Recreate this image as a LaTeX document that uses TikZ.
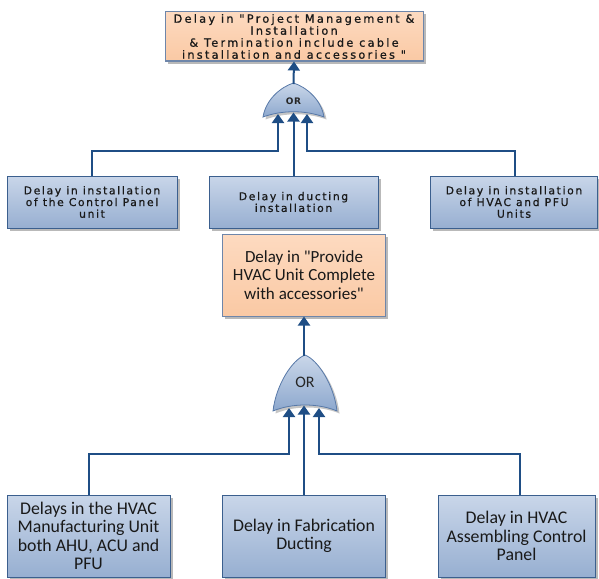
\documentclass[tikz,border=0pt]{standalone}
\usepackage{fontspec}
\setmainfont{Carlito}[Ligatures=TeXOff]
\newfontfamily\dvtop{DejaVu Sans}[LetterSpace=20,Ligatures=TeXOff,FakeBold=0.8]
\newfontfamily\dv{DejaVu Sans}[LetterSpace=15,Ligatures=TeXOff,FakeBold=0.8]
\newfontfamily\dvb{DejaVu Sans Bold}[LetterSpace=8]
\usetikzlibrary{shadows,arrows.meta,calc}
\definecolor{lineblue}{HTML}{1F4E85}
\definecolor{boxedge}{HTML}{3B5F8E}
\definecolor{btop}{HTML}{C9D6E9}
\definecolor{bbot}{HTML}{97AFD1}
\definecolor{otop}{HTML}{FDDAC0}
\definecolor{obot}{HTML}{FAC9A4}
\definecolor{oedge}{HTML}{6E86AA}
\definecolor{gtop}{HTML}{CAD7E9}
\definecolor{gbot}{HTML}{8DA8CE}
\definecolor{gedge}{HTML}{5879A8}
\tikzset{
  shad/.style={drop shadow={shadow xshift=2.5pt,shadow yshift=-2.5pt,fill=black!50,opacity=.55}},
  bluebox/.style={draw=boxedge,line width=1pt,top color=btop,bottom color=bbot,shad,
    align=center,inner sep=0pt,text=black!90},
  orbox/.style={draw=oedge,line width=1pt,top color=otop,bottom color=obot,shad,
    align=center,inner sep=0pt,text=black!90},
  toptxt/.style={font=\dvtop\fontsize{11.3}{12}\selectfont},
  smalltxt/.style={font=\dv\fontsize{10.8}{11.7}\selectfont},
  bigtxt/.style={font=\fontsize{17}{18.3}\selectfont},
  bottxt/.style={font=\fontsize{17.8}{18.3}\selectfont},
  conn/.style={draw=lineblue,line width=2pt},
  arr/.style={conn,-{Triangle[width=12pt,length=9pt]}},
  gate/.style={draw=gedge,line width=.8pt,top color=gtop,bottom color=gbot},
  gateshadow/.style={fill=black!45,opacity=.5}
}
\begin{document}
\begin{tikzpicture}[x=1pt,y=-1pt]
\useasboundingbox (0,0) rectangle (599,578);
% top box
\node[orbox,toptxt,minimum width=258pt,minimum height=49pt] (top) at (294,36.5)
  {Delay in "Project Management \&\\Installation\\\& Termination include cable\\installation and accessories "};
% middle row
\node[bluebox,smalltxt,minimum width=170pt,minimum height=52pt] (m1) at (92,202)
  {Delay in installation\\of the Control Panel\\unit};
\node[bluebox,smalltxt,minimum width=169pt,minimum height=52pt] (m2) at (293.5,202)
  {Delay in ducting\\installation};
\node[bluebox,smalltxt,minimum width=167pt,minimum height=52pt] (m3) at (514,202)
  {Delay in installation\\of HVAC and PFU\\Units};
% middle orange
\node[orbox,bigtxt,minimum width=163pt,minimum height=82pt] (mid) at (304,275)
  {Delay in "Provide\\HVAC Unit Complete\\with accessories"};
% bottom row
\node[bluebox,bottxt,minimum width=163pt,minimum height=82pt] (b1) at (88.5,536)
  {Delays in the HVAC\\Manufacturing Unit\\both AHU, ACU and\\PFU};
\node[bluebox,bottxt,minimum width=163pt,minimum height=82pt] (b2) at (304,536)
  {Delay in Fabrication\\Ducting};
\node[bluebox,bottxt,minimum width=157pt,minimum height=82pt] (b3) at (516.5,536)
  {Delay in HVAC\\Assembling Control\\Panel};
% top gate
\fill[gateshadow] (265.5,119.5) .. controls (268.5,101.5) and (283.5,89.5) .. (296,85.5)
  .. controls (308.5,89.5) and (323.5,101.5) .. (326.5,119.5)
  .. controls (307.5,112.5) and (284.5,112.5) .. cycle;
\path[gate] (263,117) .. controls (266,99) and (281,87) .. (293.5,83)
  .. controls (306,87) and (321,99) .. (324,117)
  .. controls (305,110) and (282,110) .. cycle;
\node[font=\dvb\fontsize{9}{10}\selectfont,text=black!85] (g1) at (293.5,101) {OR};
\coordinate (g1out) at (293.5,84);
\coordinate (g1a) at (278,114);
\coordinate (g1b) at (293.5,112.5);
\coordinate (g1c) at (307,114);
% bottom gate
\fill[gateshadow] (275.5,413.5) .. controls (278.5,387.5) and (294.5,362.5) .. (307.5,357.5)
  .. controls (320.5,362.5) and (336.5,387.5) .. (339.5,413.5)
  .. controls (320.5,405.5) and (294.5,405.5) .. cycle;
\path[gate] (273,411) .. controls (276,385) and (292,360) .. (305,355)
  .. controls (318,360) and (334,385) .. (337,411)
  .. controls (318,403) and (292,403) .. cycle;
\node[font=\fontsize{16}{17}\selectfont,text=black!85] (g2) at (305,382) {OR};
\coordinate (g2out) at (304,356);
\coordinate (g2a) at (289,408);
\coordinate (g2b) at (304,405.5);
\coordinate (g2c) at (319,408);
% connectors top group
\draw[arr] (g1out) -- (top.south);
\draw[arr] (m1.north) -- ++(0,-25) -| (g1a);
\draw[arr] (m2.north) -- (g1b);
\draw[arr] ([xshift=1pt]m3.north) -- ++(0,-25) -| (g1c);
% connectors bottom group
\draw[arr] (g2out) -- (mid.south);
\draw[arr] (b1.north) -- ++(0,-41) -| (g2a);
\draw[arr] (b2.north) -- (g2b);
\draw[arr] ([xshift=3.5pt]b3.north) -- ++(0,-41) -| (g2c);
\end{tikzpicture}
\end{document}
